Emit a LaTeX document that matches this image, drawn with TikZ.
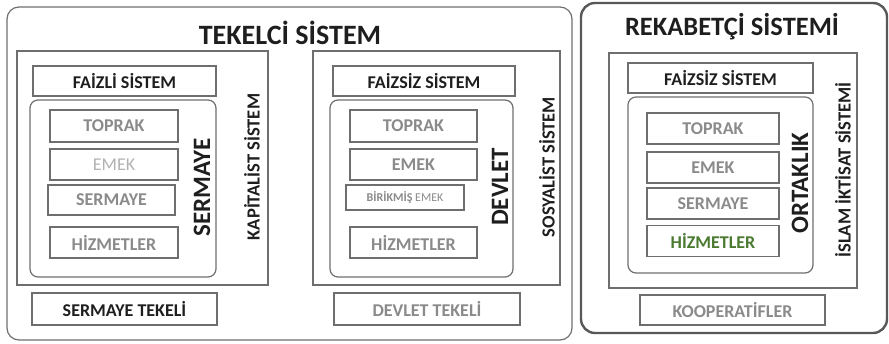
\documentclass[tikz,border=0pt]{standalone}
\usepackage{fontspec}
\setmainfont{Carlito}
\usetikzlibrary{positioning}

\definecolor{framegray}{HTML}{6E6E6E}
\definecolor{txtgray}{HTML}{8A8A8A}
\definecolor{txtdark}{HTML}{1E1E1E}
\definecolor{txtgreen}{HTML}{4A7A30}

\tikzset{
    frame/.style={draw=framegray, line width=1.2pt},
    cell/.style={frame, minimum height=31pt, inner sep=0pt,
        font=\bfseries\fontsize{18}{18}\selectfont, text=txtgray},
    headcell/.style={cell, text=txtdark},
    title/.style={font=\bfseries\fontsize{28}{28}\selectfont, text=txtdark},
    sidetitle/.style={rotate=90, font=\bfseries\fontsize{25}{25}\selectfont, text=txtdark},
    systitle/.style={rotate=90, font=\bfseries\fontsize{18.5}{18.5}\selectfont, text=txtdark}
}

\begin{document}
\begin{tikzpicture}[x=1pt, y=-1pt]
    \useasboundingbox (0,0) rectangle (889,344);

    % Tekelci sistem: outer frame
    \draw[frame, rounded corners=12pt] (7,7) rectangle (572,340);
    \node[title] (tekelci) at (290,33) {TEKELCİ SİSTEM};

    % Kapitalist sistem
    \draw[frame] (17,51) rectangle (268,285);
    \node[headcell, minimum width=183pt, minimum height=30pt] (faizli) at (124.5,81) {FAİZLİ SİSTEM};
    \draw[frame, rounded corners=8pt] (30,100) rectangle (216,277);
    \node[cell, minimum width=128pt, minimum height=32pt] (kToprak) at (114,126) {TOPRAK};
    \node[cell, minimum width=128pt, text=gray!60, font=\fontsize{18}{18}\selectfont] (kEmek) at (114,164.5) {EMEK};
    \node[cell, minimum width=127pt, minimum height=30pt] (kSermaye) at (111.5,200) {SERMAYE};
    \node[cell, minimum width=128pt] (kHizmet) at (114,242.5) {HİZMETLER};
    \node[sidetitle] (sermaye) at (202,187) {SERMAYE};
    \node[systitle] (kapitalist) at (252,167) {KAPİTALİST SİSTEM};
    \node[headcell, minimum width=185pt, minimum height=32pt] (sTekel) at (124.5,309) {SERMAYE TEKELİ};

    % Sosyalist sistem
    \draw[frame] (313,51) rectangle (560,285);
    \node[headcell, minimum width=182pt, minimum height=30pt] (faizsizS) at (424,81) {FAİZSİZ SİSTEM};
    \draw[frame, rounded corners=8pt] (330,100) rectangle (513,277);
    \node[cell, minimum width=127pt, minimum height=32pt] (sToprak) at (413.5,126) {TOPRAK};
    \node[cell, minimum width=127pt] (sEmek) at (413.5,164.5) {EMEK};
    \node[cell, minimum width=118pt, minimum height=25pt, font=\fontsize{12}{12}\selectfont] (sBirikmis) at (405,197.5) {\textbf{BİRİKMİŞ} EMEK};
    \node[cell, minimum width=127pt] (sHizmet) at (413.5,242.5) {HİZMETLER};
    \node[sidetitle] (devlet) at (500,187) {DEVLET};
    \node[systitle] (sosyalist) at (547,167) {SOSYALİST SİSTEM};
    \node[cell, minimum width=186pt, minimum height=32pt] (dTekel) at (427,309) {DEVLET TEKELİ};

    % Rekabetci sistem
    \draw[draw=framegray!80!black, line width=2.4pt, rounded corners=14pt] (581,3) rectangle (887,333);
    \node[title, font=\bfseries\fontsize{26.5}{26.5}\selectfont] (rekabetci) at (732,27) {REKABETÇİ SİSTEMİ};
    \draw[frame] (609,53) rectangle (857,288);
    \node[headcell, minimum width=185pt, minimum height=30pt] (faizsizR) at (720.5,78) {FAİZSİZ SİSTEM};
    \draw[frame, rounded corners=8pt] (628,97) rectangle (813,273);
    \node[cell, minimum width=132pt] (rToprak) at (713,128.5) {TOPRAK};
    \node[cell, minimum width=132pt] (rEmek) at (713,167.5) {EMEK};
    \node[cell, minimum width=132pt] (rSermaye) at (713,203.5) {SERMAYE};
    \node[cell, minimum width=132pt, text=txtgreen] (rHizmet) at (713,241) {HİZMETLER};
    \node[sidetitle] (ortaklik) at (800,183) {ORTAKLIK};
    \node[systitle] (islam) at (843,170) {İSLAM İKTİSAT SİSTEMİ};
    \node[cell, minimum width=185pt, minimum height=30pt] (koop) at (732.5,310) {KOOPERATİFLER};
\end{tikzpicture}
\end{document}
